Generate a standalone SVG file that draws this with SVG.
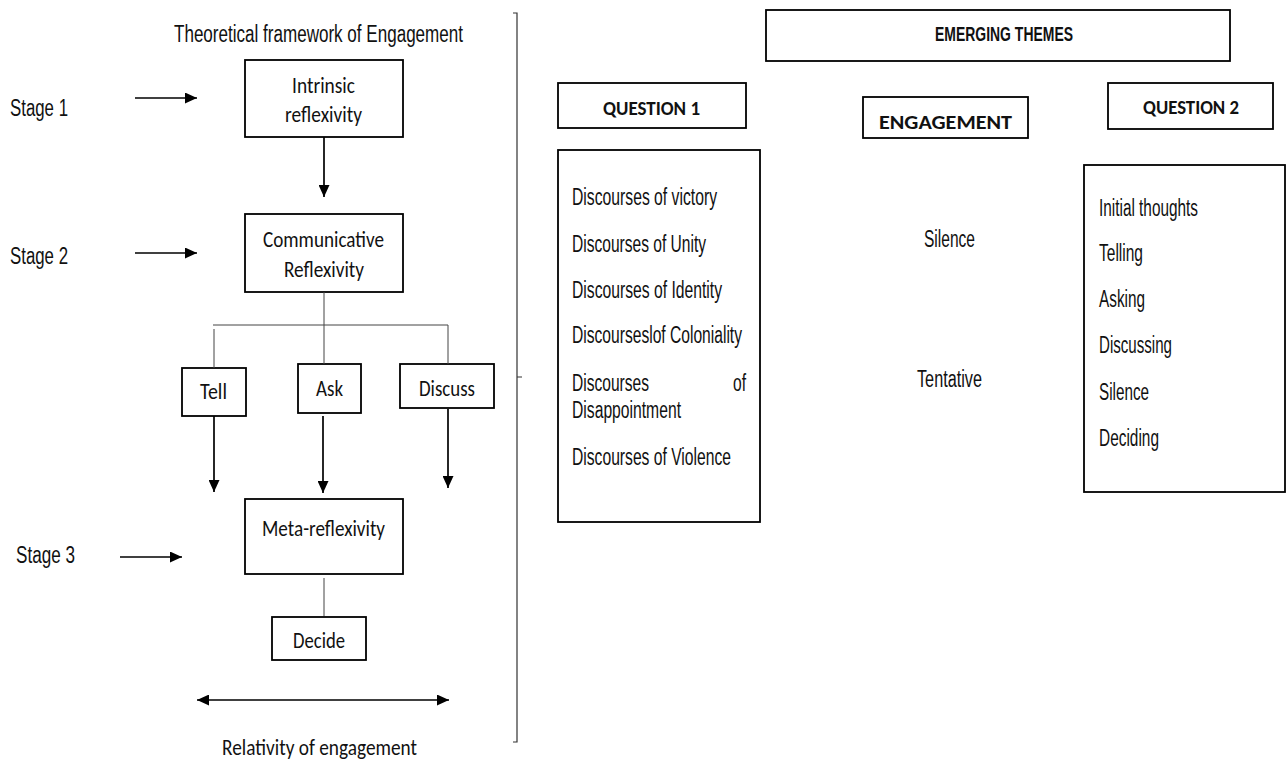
<svg xmlns="http://www.w3.org/2000/svg" width="1287" height="760" viewBox="0 0 1287 760">
  <style>
    .box { fill: #fff; stroke: #000; stroke-width: 1.8; }
    .narrow { font-family: "Liberation Sans", Arial, sans-serif; font-size: 23px; fill: #111; }
    .narrow-b { font-family: "Liberation Sans", Arial, sans-serif; font-size: 20px; font-weight: bold; fill: #111; }
    .cal { font-family: Carlito, Lato, "Open Sans", sans-serif; font-size: 22px; fill: #111; }
    .cal-b { font-family: Carlito, Lato, "Open Sans", sans-serif; font-size: 21px; font-weight: bold; fill: #111; }
    .link { fill: none; stroke: #444; stroke-width: 1; }
    .arrow { fill: none; stroke: #000; stroke-width: 1.7; }
  </style>
  <defs>
    <marker id="head" markerUnits="userSpaceOnUse" markerWidth="12" markerHeight="11" refX="12" refY="5.5" orient="auto-start-reverse">
      <path d="M0,0 L12,5.5 L0,11 z" fill="#000"/>
    </marker>
  </defs>
  <rect width="1287" height="760" fill="#fff"/>

  <!-- left panel: framework of engagement -->
  <text class="narrow" x="174" y="42" textLength="289" lengthAdjust="spacingAndGlyphs">Theoretical framework of Engagement</text>

  <g id="stage1">
    <text class="narrow" x="10" y="116" textLength="58" lengthAdjust="spacingAndGlyphs">Stage 1</text>
  </g>
  <g id="stage2">
    <text class="narrow" x="10" y="264" textLength="58" lengthAdjust="spacingAndGlyphs">Stage 2</text>
  </g>
  <g id="stage3">
    <text class="narrow" x="16" y="563" textLength="59" lengthAdjust="spacingAndGlyphs">Stage 3</text>
  </g>

  <g id="intrinsic">
    <rect class="box" x="245" y="60" width="158" height="77"/>
    <text class="cal" x="292" y="93" textLength="63" lengthAdjust="spacingAndGlyphs">Intrinsic</text>
    <text class="cal" x="285" y="122" textLength="77" lengthAdjust="spacingAndGlyphs">reflexivity</text>
  </g>
  <g id="communicative">
    <rect class="box" x="245" y="214" width="158" height="78"/>
    <text class="cal" x="263" y="247" textLength="121" lengthAdjust="spacingAndGlyphs">Communicative</text>
    <text class="cal" x="284" y="277" textLength="80" lengthAdjust="spacingAndGlyphs">Reflexivity</text>
  </g>
  <g id="tell">
    <rect class="box" x="182" y="368" width="64" height="48"/>
    <text class="cal" x="200" y="399" textLength="27" lengthAdjust="spacingAndGlyphs">Tell</text>
  </g>
  <g id="ask">
    <rect class="box" x="298" y="364" width="63" height="49"/>
    <text class="cal" x="316" y="396" textLength="27" lengthAdjust="spacingAndGlyphs">Ask</text>
  </g>
  <g id="discuss">
    <rect class="box" x="400" y="364" width="94" height="44"/>
    <text class="cal" x="419" y="396" textLength="56" lengthAdjust="spacingAndGlyphs">Discuss</text>
  </g>
  <g id="meta">
    <rect class="box" x="245" y="499" width="158" height="75"/>
    <text class="cal" x="262" y="536" textLength="123" lengthAdjust="spacingAndGlyphs">Meta-reflexivity</text>
  </g>
  <g id="decide">
    <rect class="box" x="272" y="617" width="94" height="43"/>
    <text class="cal" x="293" y="648" textLength="52" lengthAdjust="spacingAndGlyphs">Decide</text>
  </g>
  <g id="relativity">
    <text class="cal" x="222" y="755" textLength="195" lengthAdjust="spacingAndGlyphs">Relativity of engagement</text>
  </g>

  <g id="connectors">
    <!-- stage pointers -->
    <line class="arrow" x1="135" y1="98" x2="197" y2="98" marker-end="url(#head)"/>
    <line class="arrow" x1="135" y1="253" x2="197" y2="253" marker-end="url(#head)"/>
    <line class="arrow" x1="120" y1="557" x2="182" y2="557" marker-end="url(#head)"/>
    <!-- intrinsic to communicative -->
    <line class="arrow" x1="324" y1="137" x2="324" y2="197" marker-end="url(#head)"/>
    <!-- branching to tell / ask / discuss -->
    <line class="link" x1="324" y1="292" x2="324" y2="364"/>
    <line class="link" x1="213" y1="325" x2="448" y2="325"/>
    <line class="link" x1="214" y1="329" x2="214" y2="368"/>
    <line class="link" x1="448" y1="325" x2="448" y2="364"/>
    <!-- down towards meta-reflexivity -->
    <line class="arrow" x1="214" y1="416" x2="214" y2="492" marker-end="url(#head)"/>
    <line class="arrow" x1="323" y1="416" x2="323" y2="493" marker-end="url(#head)"/>
    <line class="arrow" x1="448" y1="409" x2="448" y2="488" marker-end="url(#head)"/>
    <!-- meta-reflexivity to decide -->
    <line class="link" x1="324" y1="578" x2="324" y2="616"/>
    <!-- relativity span -->
    <line class="arrow" x1="197" y1="700" x2="449" y2="700" marker-start="url(#head)" marker-end="url(#head)"/>
  </g>

  <!-- divider bracket -->
  <path d="M513,13 H517 V742 H513 M517,377 H522" fill="none" stroke="#333" stroke-width="1.2"/>

  <!-- right panel: emerging themes -->
  <g id="emerging">
    <rect class="box" x="766" y="10" width="464" height="51"/>
    <text class="narrow-b" x="935" y="41" textLength="138" lengthAdjust="spacingAndGlyphs">EMERGING THEMES</text>
  </g>
  <g id="question1">
    <rect class="box" x="558" y="83" width="188" height="45"/>
    <text class="cal-b" x="603" y="115" textLength="97" lengthAdjust="spacingAndGlyphs">QUESTION 1</text>
  </g>
  <g id="engagement">
    <rect class="box" x="863" y="97" width="165" height="41"/>
    <text class="cal-b" x="879" y="129" textLength="133" lengthAdjust="spacingAndGlyphs">ENGAGEMENT</text>
  </g>
  <g id="question2">
    <rect class="box" x="1108" y="83" width="165" height="46"/>
    <text class="cal-b" x="1143" y="114" textLength="96" lengthAdjust="spacingAndGlyphs">QUESTION 2</text>
  </g>

  <g id="discourses">
    <rect class="box" x="558" y="150" width="202" height="372"/>
    <text class="narrow" x="572" y="205" textLength="145" lengthAdjust="spacingAndGlyphs">Discourses of victory</text>
    <text class="narrow" x="572" y="252" textLength="134" lengthAdjust="spacingAndGlyphs">Discourses of Unity</text>
    <text class="narrow" x="572" y="298" textLength="150" lengthAdjust="spacingAndGlyphs">Discourses of Identity</text>
    <text class="narrow" x="572" y="343" textLength="170" lengthAdjust="spacingAndGlyphs">Discourseslof Coloniality</text>
    <text class="narrow" x="572" y="391" textLength="77" lengthAdjust="spacingAndGlyphs">Discourses</text>
    <text class="narrow" x="733" y="391" textLength="13" lengthAdjust="spacingAndGlyphs">of</text>
    <text class="narrow" x="572" y="418" textLength="109" lengthAdjust="spacingAndGlyphs">Disappointment</text>
    <text class="narrow" x="572" y="465" textLength="159" lengthAdjust="spacingAndGlyphs">Discourses of Violence</text>
  </g>

  <g id="engagement-themes">
    <text class="narrow" x="924" y="247" textLength="51" lengthAdjust="spacingAndGlyphs">Silence</text>
    <text class="narrow" x="917" y="387" textLength="65" lengthAdjust="spacingAndGlyphs">Tentative</text>
  </g>

  <g id="question2-themes">
    <rect class="box" x="1084" y="165" width="201" height="327"/>
    <text class="narrow" x="1099" y="216" textLength="99" lengthAdjust="spacingAndGlyphs">Initial thoughts</text>
    <text class="narrow" x="1099" y="261" textLength="44" lengthAdjust="spacingAndGlyphs">Telling</text>
    <text class="narrow" x="1099" y="307" textLength="46" lengthAdjust="spacingAndGlyphs">Asking</text>
    <text class="narrow" x="1099" y="353" textLength="73" lengthAdjust="spacingAndGlyphs">Discussing</text>
    <text class="narrow" x="1099" y="400" textLength="50" lengthAdjust="spacingAndGlyphs">Silence</text>
    <text class="narrow" x="1099" y="446" textLength="60" lengthAdjust="spacingAndGlyphs">Deciding</text>
  </g>
</svg>
